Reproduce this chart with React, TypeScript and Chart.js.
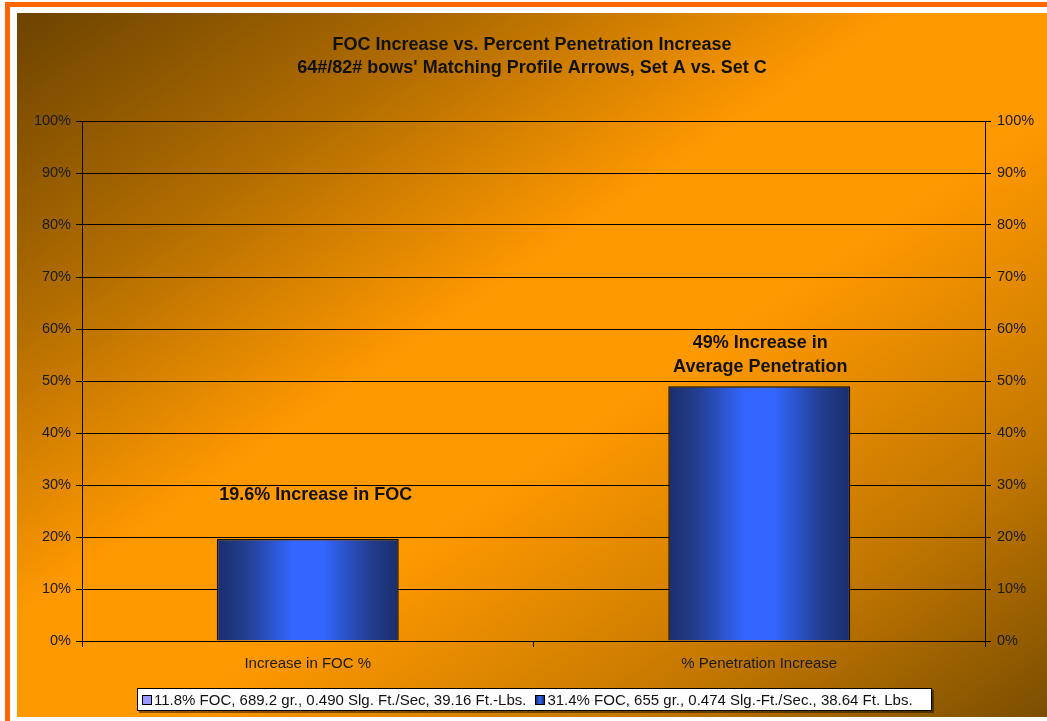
import React, { useEffect, useRef } from "react";
import { Chart, registerables } from "chart.js";

Chart.register(...registerables);

const categories = ["Increase in FOC %", "% Penetration Increase"];
const seriesA = [null, null] as (number | null)[];
const seriesB = [19.6, 49];
const seriesNames = [
  "11.8% FOC, 689.2 gr., 0.490 Slg. Ft./Sec, 39.16 Ft.-Lbs.",
  "31.4% FOC, 655 gr., 0.474 Slg.-Ft./Sec., 38.64 Ft. Lbs.",
];
const barLabels = [["19.6% Increase in FOC"], ["49% Increase in", "Average Penetration"]];
const titleLines = [
  "FOC Increase vs. Percent Penetration Increase",
  "64#/82# bows' Matching Profile Arrows, Set A vs. Set C",
];
const yTicks = [0, 10, 20, 30, 40, 50, 60, 70, 80, 90, 100];

const BAR_FRAC = 0.403;
const FONT = "Arial, 'Liberation Sans', sans-serif";

const labelPlugin = {
  id: "barLabels",
  afterDatasetsDraw(chart: any) {
    const meta = chart.getDatasetMeta(1);
    const c = chart.ctx;
    c.save();
    c.font = `bold 18px ${FONT}`;
    c.fillStyle = "#111";
    c.textAlign = "center";
    c.textBaseline = "middle";
    const offsets = [{ dx: 8, dy: -44 }, { dx: 1, dy: -19 }];
    meta.data.forEach((el: any, i: number) => {
      const lines = barLabels[i];
      const o = offsets[i];
      lines.forEach((ln, j) => {
        const y = el.y + o.dy - (lines.length - 1 - j) * 24;
        c.fillText(ln, el.x + o.dx, y);
      });
    });
    c.restore();
  },
};

function barGradient(ctx: any) {
  const chart = ctx.chart;
  const xs = chart.scales && chart.scales.x;
  if (!xs || !chart.chartArea) return "#3366ff";
  const cx = xs.getPixelForValue(ctx.dataIndex);
  const half = (xs.width / categories.length) * BAR_FRAC / 2;
  if (!isFinite(cx) || !isFinite(half)) return "#3366ff";
  const g = chart.ctx.createLinearGradient(cx - half, 0, cx + half, 0);
  g.addColorStop(0, "#1b2e6c");
  g.addColorStop(0.15, "#223d8c");
  g.addColorStop(0.42, "#3366ff");
  g.addColorStop(0.58, "#3366ff");
  g.addColorStop(0.85, "#223d8c");
  g.addColorStop(1, "#1b2e6c");
  return g;
}

export default function App() {
  const ref = useRef<HTMLCanvasElement>(null);
  useEffect(() => {
    if (!ref.current) return;
    const chart = new Chart(ref.current, {
      type: "bar",
      data: {
        labels: categories,
        datasets: [
          {
            label: seriesNames[0],
            data: seriesA,
            backgroundColor: "#9999ff",
            borderColor: "#000",
            borderWidth: 1,
            grouped: false,
            categoryPercentage: 1,
            barPercentage: BAR_FRAC,
          } as any,
          {
            label: seriesNames[1],
            data: seriesB,
            backgroundColor: barGradient,
            borderColor: "#111",
            borderWidth: 1.5,
            grouped: false,
            categoryPercentage: 1,
            barPercentage: BAR_FRAC,
          } as any,
        ],
      },
      options: {
        animation: false,
        responsive: false,
        maintainAspectRatio: false,
        layout: { padding: 0 },
        plugins: {
          legend: { display: false },
          tooltip: { enabled: false },
          title: {
            display: true,
            text: titleLines,
            color: "#111",
            font: { family: FONT, size: 18, weight: "bold", lineHeight: 23 / 18 },
            padding: { top: 20.5, bottom: 41.5 },
          },
        },
        scales: {
          x: {
            offset: true,
            grid: {
              display: true,
              drawOnChartArea: false,
              drawTicks: true,
              tickLength: 6,
              color: "#000",
              offset: true,
            },
            border: { display: true, color: "#000", width: 1 },
            ticks: { color: "#1a1a1a", font: { family: FONT, size: 15 }, padding: 8 },
            afterFit(s: any) {
              s.height = 76;
            },
          },
          y: {
            position: "left",
            min: 0,
            max: 100,
            afterBuildTicks(s: any) {
              s.ticks = yTicks.map((v) => ({ value: v }));
            },
            grid: { color: "#000", lineWidth: 1, tickLength: 6 },
            border: { display: true, color: "#000", width: 1 },
            ticks: {
              color: "#1a1a1a",
              font: { family: FONT, size: 14.5 },
              padding: 5,
              callback: (v: any) => v + "%",
            },
            afterFit(s: any) {
              s.width = 65;
            },
          },
          y2: {
            position: "right",
            min: 0,
            max: 100,
            afterBuildTicks(s: any) {
              s.ticks = yTicks.map((v) => ({ value: v }));
            },
            grid: { drawOnChartArea: false, color: "#000", tickLength: 6 },
            border: { display: true, color: "#000", width: 1 },
            ticks: {
              color: "#1a1a1a",
              font: { family: FONT, size: 14.5 },
              padding: 6,
              callback: (v: any) => v + "%",
            },
            afterFit(s: any) {
              s.width = 62;
            },
          },
        },
      } as any,
      plugins: [labelPlugin],
    });
    return () => chart.destroy();
  }, []);

  const marker = (bg: string) => ({
    display: "inline-block",
    width: 8,
    height: 8,
    border: "1px solid #000",
    background: bg,
    marginRight: 2,
    verticalAlign: "middle",
    position: "relative" as const,
    top: 0,
  });

  return (
    <div
      style={{
        position: "absolute",
        left: 0,
        top: 0,
        width: 1047,
        height: 721,
        background: "#fff",
        overflow: "hidden",
      }}
    >
      <div style={{ position: "absolute", left: 5, top: 2, width: 5, height: 719, background: "#ff6600" }} />
      <div style={{ position: "absolute", left: 5, top: 2, width: 1042, height: 5, background: "#ff6600" }} />
      <div
        style={{
          position: "absolute",
          left: 17,
          top: 13,
          width: 1030,
          height: 704,
          background:
            "linear-gradient(to bottom right, #6c4300 0%, #b06c00 22%, #ff9900 43%, #ff9900 57%, #c47800 80%, #7a4e00 100%)",
        }}
      >
        <canvas ref={ref} width={1030} height={704} style={{ display: "block", width: 1030, height: 704 }} />
        <div
          style={{
            position: "absolute",
            left: 120,
            top: 675,
            width: 793,
            height: 21,
            background: "#fff",
            border: "1px solid #000",
            boxShadow: "2px 2px 0 rgba(0,0,0,0.45)",
            fontFamily: FONT,
            fontSize: 15,
            color: "#111",
            lineHeight: "21px",
            whiteSpace: "nowrap",
            display: "flex",
            alignItems: "center",
          }}
        >
          <span style={{ marginLeft: 4, display: "inline-flex", alignItems: "center" }}>
            <span style={marker("#9999ff")} />
            {seriesNames[0]}
          </span>
          <span style={{ marginLeft: 9, display: "inline-flex", alignItems: "center" }}>
            <span style={marker("linear-gradient(to right, #1b2e6c, #3366ff, #1b2e6c)")} />
            {seriesNames[1]}
          </span>
        </div>
      </div>
    </div>
  );
}
